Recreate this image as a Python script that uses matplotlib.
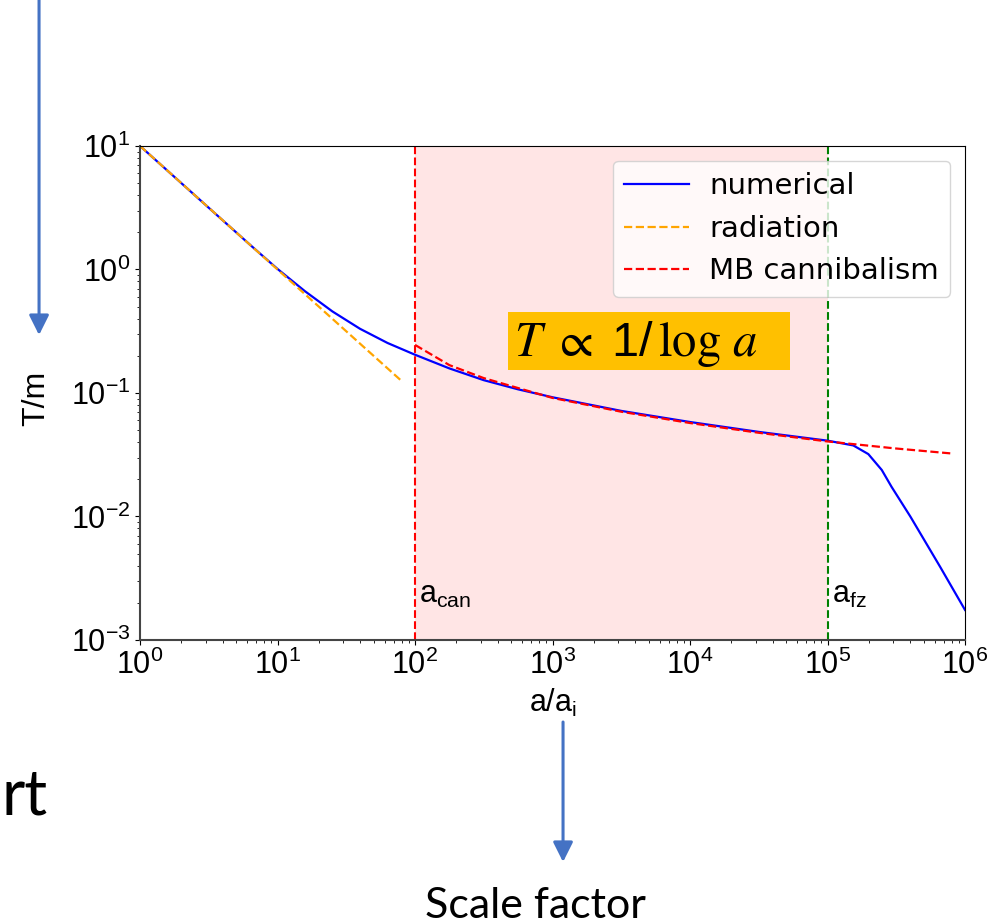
import numpy as np
import matplotlib
matplotlib.use("Agg")
import matplotlib.pyplot as plt
from matplotlib.patches import Rectangle, FancyArrowPatch

plt.rcParams['font.family'] = ['Liberation Sans', 'DejaVu Sans']
plt.rcParams['mathtext.fontset'] = 'custom'
plt.rcParams['mathtext.rm'] = 'Liberation Sans'
plt.rcParams['mathtext.it'] = 'Liberation Sans:italic'
plt.rcParams['mathtext.default'] = 'regular'

# values
a_num = [1, 3.16, 6.31, 10, 15.8, 25.1, 39.8, 63.1, 100, 178, 316, 562, 1000,
         3162, 10000, 31623, 1e5, 1.54e5, 1.98e5, 2.48e5, 2.92e5, 4e5, 6.6e5, 1e6]
T_num = [10, 3.16, 1.585, 1.01, 0.668, 0.457, 0.331, 0.254, 0.204, 0.158, 0.127, 0.107,
         0.0923, 0.0716, 0.0582, 0.0484, 0.0411, 0.0376, 0.032, 0.0238, 0.0174, 0.0100,
         0.0039, 0.00175]

a_rad = [1, 78]
T_rad = [10, 0.128]

a_mb = [100, 178, 316, 562, 1000, 3162, 10000, 31623, 1e5, 3.16e5, 7.9e5]
T_mb = [0.245, 0.168, 0.132, 0.1096, 0.0912, 0.0705, 0.0571, 0.0476, 0.0405, 0.0355, 0.0324]

a_can = 1e2
a_fz = 1e5

fig = plt.figure(figsize=(9.96, 9.24), dpi=100)
ax = fig.add_axes([0.1406, 0.3074, 0.8283, 0.5346])

ax.axvspan(a_can, a_fz, color='red', alpha=0.1, lw=0)
ax.axvline(a_can, color='red', ls='--', lw=1.5)
ax.axvline(a_fz, color='green', ls='--', lw=1.5)

ax.plot(a_num, T_num, color='blue', lw=1.6, label='numerical')
ax.plot(a_rad, T_rad, color='orange', ls='--', lw=1.6, label='radiation')
ax.plot(a_mb, T_mb, color='red', ls='--', lw=1.6, label='MB cannibalism')

ax.set_xscale('log')
ax.set_yscale('log')
ax.set_xlim(1, 1e6)
ax.set_ylim(1e-3, 1e1)

ax.text(1.06e2, 2.0e-3, r'$\mathrm{a_{can}}$', fontsize=22)
ax.text(1.07e5, 2.0e-3, r'$\mathrm{a_{fz}}$', fontsize=22)

ax.tick_params(labelsize=22)
ax.set_xlabel(r'a/a$_\mathrm{i}$', fontsize=22)
ax.set_ylabel('T/m', fontsize=23)
ax.yaxis.set_label_coords(-0.108, 0.49)
for s in ['left', 'bottom']:
    ax.spines[s].set_color('#444444')
    ax.spines[s].set_linewidth(1.5)

ax.legend(loc='upper right', prop={'family': 'DejaVu Sans', 'size': 21},
          handlelength=2.2, handletextpad=0.7)

# highlighted formula box
fig.patches.append(Rectangle((0.510, 0.5996), 0.283, 0.0628, transform=fig.transFigure,
                             facecolor='#FFC000', edgecolor='none', zorder=5))
fig.text(0.516, 0.628, r'$\mathit{T}\ \propto\ 1/\,\log\,\mathit{a}$', fontsize=35,
         math_fontfamily='stix', va='center', ha='left', zorder=6)

# slide arrows and text
arr_kw = dict(transform=fig.transFigure, arrowstyle='-|>,head_length=0.6,head_width=0.3',
              mutation_scale=20, color='#4472C4', lw=2.2, shrinkA=0, shrinkB=0)
fig.patches.append(FancyArrowPatch((0.0392, 1.0), (0.0392, 0.6374), **arr_kw))
fig.patches.append(FancyArrowPatch((0.5653, 0.2186), (0.5653, 0.0671), **arr_kw))

fig.text(0.002, 0.118, 'rt', fontsize=46, family='Lato', ha='left', va='baseline')
fig.text(0.538, 0.006, 'Scale factor', fontsize=31, family='Lato', ha='center', va='baseline')

fig.savefig('out.png', dpi=100)
